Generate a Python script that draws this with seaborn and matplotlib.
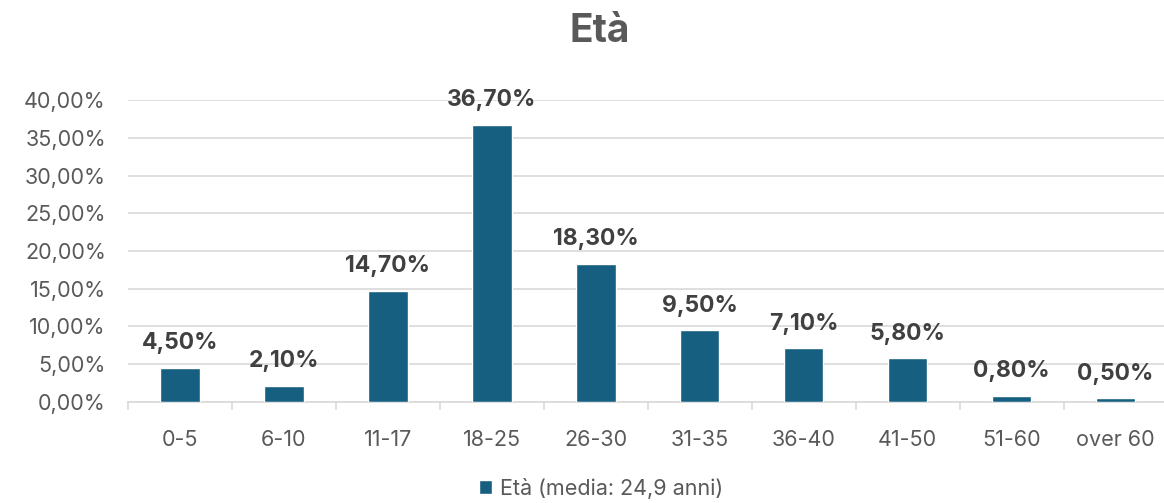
import matplotlib.pyplot as plt
import seaborn as sns
import pandas as pd

# dati
fasce = ['0-5', '6-10', '11-17', '18-25', '26-30', '31-35', '36-40', '41-50', '51-60', 'over 60']
valori = [4.5, 2.1, 14.7, 36.7, 18.3, 9.5, 7.1, 5.8, 0.8, 0.5]
tick_y = [0, 5, 10, 15, 20, 25, 30, 35, 40]
serie = 'Età (media: 24,9 anni)'

df = pd.DataFrame({'fascia': fasce, 'valore': valori})

sns.set_theme(style='white')
plt.rcParams['font.family'] = ['Inter', 'DejaVu Sans']

blu = '#175f80'
grigio = '#595959'

fig = plt.figure(figsize=(11.64, 5.03), dpi=100)
ax = fig.add_axes([0.110, 0.201, 0.893, 0.600])

sns.barplot(data=df, x='fascia', y='valore', color=blu, width=0.38,
            saturation=1, ax=ax, label=serie, zorder=3)

ax.set_ylim(0, 40)
ax.set_xlim(-0.5, len(fasce) - 0.5)
ax.set_yticks(tick_y)
ax.set_yticklabels([f'{v:.2f}%'.replace('.', ',') for v in tick_y], color=grigio, fontsize=15.5)
ax.set_xticks(range(len(fasce)))
ax.set_xticklabels(fasce, color=grigio, fontsize=15.5)
ax.tick_params(axis='y', length=0, pad=16)
ax.tick_params(axis='x', length=0, pad=20)
ax.grid(axis='y', color='#d9d9d9', linewidth=1.2, zorder=0)
for s in ['top', 'right', 'left']:
    ax.spines[s].set_visible(False)
ax.spines['bottom'].set_color('#d9d9d9')
ax.spines['bottom'].set_linewidth(1.2)
# tacche tra le categorie
for i in range(len(fasce) + 1):
    ax.plot([i - 0.5, i - 0.5], [0, -0.9], color='#d9d9d9', lw=1.2, clip_on=False)
ax.set_xlabel('')
ax.set_ylabel('')

for i, v in enumerate(valori):
    ax.text(i, v + 1.8, f'{v:.2f}%'.replace('.', ','), ha='center', va='bottom',
            fontsize=16.5, fontweight='bold', color='#404040', clip_on=False)

fig.suptitle('Età', x=0.515, y=0.975, fontsize=28, fontweight='bold', color=grigio)

leg = ax.legend(loc='lower center', bbox_to_anchor=(0.455, -0.385), frameon=False,
                fontsize=15.5, handlelength=0.6, handleheight=0.6, handletextpad=0.4)
for t in leg.get_texts():
    t.set_color(grigio)

fig.savefig('out.png', dpi=100)
